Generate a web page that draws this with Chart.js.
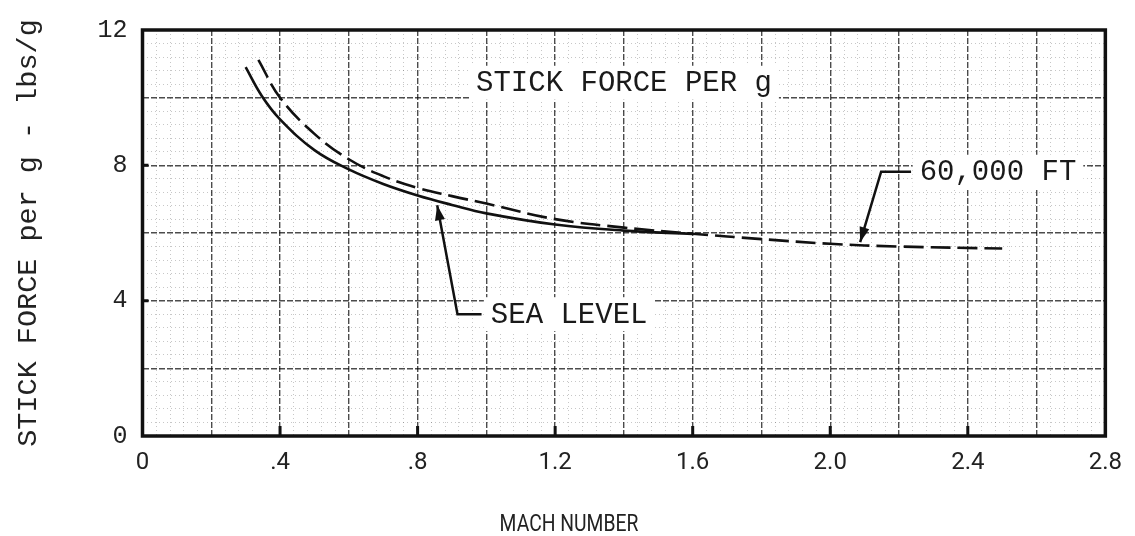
<!DOCTYPE html>
<html lang="en">
<head>
    <meta charset="UTF-8">
    <meta name="viewport" content="width=device-width, initial-scale=1.0">
    <title>Stick force per g</title>
    <script src="https://cdn.jsdelivr.net/npm/chart.js@4.4.1/dist/chart.umd.min.js"></script>
    <style>
      body { margin: 0; background: #fff; }
      canvas { display: block; }
    </style>
</head>
<body>
  <canvas id="stickForce" width="1135" height="536"></canvas>
  <script>
    // readings: mach number vs stick force per g (lbs/g)
    const machSeaLevel = [0.30, 0.347, 0.40, 0.50, 0.60, 0.70, 0.80, 0.90, 1.00, 1.20, 1.40, 1.60]
    const forceSeaLevel = [10.9, 10.05, 9.36, 8.45, 7.88, 7.45, 7.11, 6.83, 6.58, 6.25, 6.07, 5.97]
    const mach60k = [0.337, 0.40, 0.50, 0.60, 0.70, 0.80, 0.90, 1.00, 1.20, 1.40, 1.60, 1.80, 2.00, 2.20, 2.50]
    const force60k = [11.12, 10.0, 8.93, 8.18, 7.68, 7.33, 7.09, 6.87, 6.41, 6.16, 5.98, 5.82, 5.68, 5.6, 5.54]

    const machLabels = ['0', '.4', '.8', '1.2', '1.6', '2.0', '2.4', '2.8']
    const forceLabels = ['0', '4', '8', '12']

    // callouts, placed in data units
    const notes = [
      { text: 'STICK FORCE PER g', at: [0.97, 10.44] },
      { text: '60,000 FT', at: [2.26, 7.81] },
      { text: 'SEA LEVEL', at: [1.013, 3.6] },
    ]
    const leaders = [
      [[2.235, 7.81], [2.148, 7.81], [2.087, 5.73]],
      [[0.986, 3.6], [0.916, 3.6], [0.857, 6.82]],
    ]

    const MONO = '"Liberation Mono", "Courier New", monospace'
    const SANS = 'Roboto, "DejaVu Sans", sans-serif'

    const toPoints = (xs, ys) => xs.map((m, i) => ({ x: m, y: ys[i] }))

    // graph paper: heavy line every 0.2 / 2, light line every 0.04 / 0.4
    function xIndex(v) { return Math.round(v / 0.04) }
    function yIndex(v) { return Math.round(v / 0.4) }

    const paper = {
      id: 'paper',
      afterDatasetsDraw(chart) {
        const { ctx, chartArea: a, scales: { x, y } } = chart
        ctx.save()

        // frame
        ctx.strokeStyle = '#111'
        ctx.lineWidth = 3.5
        ctx.setLineDash([])
        ctx.strokeRect(a.left, a.top, a.right - a.left, a.bottom - a.top)

        // short inward ticks on the bottom and left edges
        ctx.lineWidth = 3
        ctx.beginPath()
        for (let m = 0.4; m < 2.7; m += 0.4) {
          const px = x.getPixelForValue(m)
          ctx.moveTo(px, a.bottom)
          ctx.lineTo(px, a.bottom - 10)
        }
        ;[4, 8].forEach(v => {
          const py = y.getPixelForValue(v)
          ctx.moveTo(a.left, py)
          ctx.lineTo(a.left + 6, py)
        })
        ctx.stroke()

        // callout text on white patches
        ctx.font = '29px ' + MONO
        ctx.textBaseline = 'middle'
        ctx.textAlign = 'left'
        notes.forEach(n => {
          const px = x.getPixelForValue(n.at[0])
          const py = y.getPixelForValue(n.at[1])
          const w = ctx.measureText(n.text).width
          ctx.fillStyle = '#fff'
          ctx.fillRect(px - 7, py - 17, w + 14, 34)
          ctx.fillStyle = '#1a1a1a'
          ctx.fillText(n.text, px, py + 1)
        })

        // leader lines with arrowheads
        ctx.strokeStyle = '#111'
        ctx.fillStyle = '#111'
        ctx.lineWidth = 2.5
        leaders.forEach(path => {
          const pts = path.map(p => [x.getPixelForValue(p[0]), y.getPixelForValue(p[1])])
          ctx.beginPath()
          pts.forEach((p, i) => i ? ctx.lineTo(p[0], p[1]) : ctx.moveTo(p[0], p[1]))
          ctx.stroke()
          const [tx, ty] = pts[pts.length - 1]
          const [fx, fy] = pts[pts.length - 2]
          const ang = Math.atan2(ty - fy, tx - fx)
          ctx.beginPath()
          ctx.moveTo(tx, ty)
          ctx.lineTo(tx - 15 * Math.cos(ang) + 5 * Math.sin(ang), ty - 15 * Math.sin(ang) - 5 * Math.cos(ang))
          ctx.lineTo(tx - 15 * Math.cos(ang) - 5 * Math.sin(ang), ty - 15 * Math.sin(ang) + 5 * Math.cos(ang))
          ctx.closePath()
          ctx.fill()
        })

        // x axis title: narrow lettering, left of centre
        ctx.font = '23px ' + SANS
        ctx.fillStyle = '#222'
        ctx.textAlign = 'center'
        ctx.translate(569, 525)
        ctx.scale(0.84, 1)
        ctx.fillText('MACH NUMBER', 0, 0)

        ctx.restore()
      }
    }

    new Chart('stickForce', {
      type: 'line',
      data: {
        datasets: [{
          label: 'Sea level',
          data: toPoints(machSeaLevel, forceSeaLevel),
          borderColor: '#111',
          borderWidth: 2.6,
          tension: 0.4,
          pointRadius: 0,
          fill: false,
        }, {
          label: '60,000 ft',
          data: toPoints(mach60k, force60k),
          borderColor: '#111',
          borderWidth: 2.6,
          borderDash: [20, 7],
          tension: 0.4,
          pointRadius: 0,
          fill: false,
        }]
      },
      options: {
        responsive: false,
        animation: false,
        layout: { padding: { top: 18.5, right: 26.5, left: 0, bottom: 0 } },
        plugins: {
          legend: { display: false },
          tooltip: { enabled: false },
        },
        scales: {
          x: {
            type: 'linear',
            min: 0,
            max: 2.8,
            afterFit: s => { s.height = 100 },
            grid: {
              drawTicks: false,
              color: c => xIndex(c.tick.value) % 5 === 0 ? 'rgba(0,0,0,0.7)' : 'rgba(0,0,0,0.22)',
              lineWidth: c => xIndex(c.tick.value) % 5 === 0 ? 1.4 : 1,
            },
            border: {
              display: false,
              dash: c => c.tick ? (xIndex(c.tick.value) % 5 === 0 ? [6, 2] : [1, 3]) : [],
            },
            ticks: {
              stepSize: 0.04,
              autoSkip: false,
              maxRotation: 0,
              padding: 13,
              color: '#222',
              font: { family: SANS, size: 24, lineHeight: 1.2 },
              callback: v => xIndex(v) % 10 === 0 ? machLabels[xIndex(v) / 10] : '',
            },
          },
          y: {
            min: 0,
            max: 12,
            afterFit: s => { s.width = 142.5 },
            grid: {
              drawTicks: false,
              color: c => yIndex(c.tick.value) % 5 === 0 ? 'rgba(0,0,0,0.7)' : 'rgba(0,0,0,0.22)',
              lineWidth: c => yIndex(c.tick.value) % 5 === 0 ? 1.4 : 1,
            },
            border: {
              display: false,
              dash: c => c.tick ? (yIndex(c.tick.value) % 5 === 0 ? [6, 2] : [1, 3]) : [],
            },
            ticks: {
              stepSize: 0.4,
              autoSkip: false,
              padding: 15,
              color: '#222',
              font: { family: MONO, size: 25 },
              callback: v => yIndex(v) % 10 === 0 ? forceLabels[yIndex(v) / 10] : '',
            },
            title: {
              display: true,
              text: 'STICK FORCE per g - lbs/g',
              color: '#222',
              font: { family: MONO, size: 28.5, lineHeight: 1.2 },
              padding: { top: 11, bottom: 0 },
            },
          }
        }
      },
      plugins: [paper]
    })
  </script>
</body>
</html>
